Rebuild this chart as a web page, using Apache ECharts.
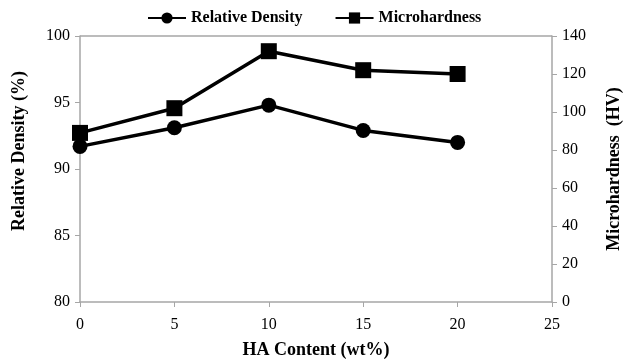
<!DOCTYPE html>
<html>
<head>
<meta charset="utf-8">
<script src="https://cdn.jsdelivr.net/npm/echarts@6/dist/echarts.min.js"></script>
<style>
  html, body { margin: 0; padding: 0; background: #fff; }
  #chart { width: 625px; height: 362px; }
</style>
</head>
<body>
<div id="chart"></div>
<script>
const haContent = [0, 5, 10, 15, 20];
const relativeDensity = [91.7, 93.1, 94.8, 92.9, 92.0];
const microhardness = [89, 102, 132, 122, 120];

const serif = '"Liberation Serif", "DejaVu Serif", serif';
const axisGray = '#a6a6a6';

const myChart = echarts.init(document.getElementById('chart'));

const option = {
    animation: false,
    textStyle: { fontFamily: serif },
    legend: {
        top: 5,
        left: 142,
        itemWidth: 38,
        itemHeight: 14,
        itemGap: 32,
        textStyle: { fontFamily: serif, fontSize: 16, fontWeight: 'bold', color: '#000' },
        data: ['Relative Density', 'Microhardness']
    },
    grid: { left: 80, right: 73, top: 36, bottom: 60, outerBoundsMode: 'none', containLabel: false },
    xAxis: {
        type: 'value',
        min: 0,
        max: 25,
        interval: 5,
        name: 'HA Content (wt%)',
        nameLocation: 'middle',
        nameGap: 39,
        nameTextStyle: { fontFamily: serif, fontSize: 18, fontWeight: 'bold', color: '#000' },
        axisLine: { lineStyle: { color: axisGray, width: 1.5 } },
        axisTick: { show: true, length: 5, lineStyle: { color: axisGray } },
        axisLabel: { fontFamily: serif, fontSize: 16, color: '#000', margin: 15 },
        splitLine: { show: false }
    },
    yAxis: [
        {
            type: 'value',
            min: 80,
            max: 100,
            interval: 5,
            name: 'Relative Density (%)',
            nameLocation: 'middle',
            nameGap: 52,
            nameTextStyle: { fontFamily: serif, fontSize: 18, fontWeight: 'bold', color: '#000', padding: [0, 0, 0, 36] },
            axisLine: { show: true, lineStyle: { color: axisGray, width: 1.5 } },
            axisTick: { show: true, length: 5, lineStyle: { color: axisGray } },
            axisLabel: { fontFamily: serif, fontSize: 16, color: '#000', margin: 10 },
            splitLine: { show: false }
        },
        {
            type: 'value',
            min: 0,
            max: 140,
            interval: 20,
            position: 'right',
            name: 'Microhardness  (HV)',
            nameLocation: 'middle',
            nameGap: 53,
            nameRotate: 90,
            nameTextStyle: { fontFamily: serif, fontSize: 18, fontWeight: 'bold', color: '#000' },
            axisLine: { show: true, lineStyle: { color: axisGray, width: 1.5 } },
            axisTick: { show: true, length: 5, lineStyle: { color: axisGray } },
            axisLabel: { fontFamily: serif, fontSize: 16, color: '#000', margin: 10 },
            splitLine: { show: false }
        }
    ],
    series: [
        {
            name: 'Relative Density',
            type: 'line',
            yAxisIndex: 0,
            data: haContent.map((x, i) => [x, relativeDensity[i]]),
            symbol: 'circle',
            symbolSize: 15,
            lineStyle: { color: '#000', width: 3.5 },
            itemStyle: { color: '#000' },
            markLine: {
                silent: true,
                symbol: 'none',
                label: { show: false },
                lineStyle: { color: axisGray, width: 1.5, type: 'solid' },
                data: [{ yAxis: 100 }]
            }
        },
        {
            name: 'Microhardness',
            type: 'line',
            yAxisIndex: 1,
            data: haContent.map((x, i) => [x, microhardness[i]]),
            symbol: 'rect',
            symbolSize: 16,
            lineStyle: { color: '#000', width: 3.5 },
            itemStyle: { color: '#000' }
        }
    ]
};

myChart.setOption(option);
</script>
</body>
</html>
